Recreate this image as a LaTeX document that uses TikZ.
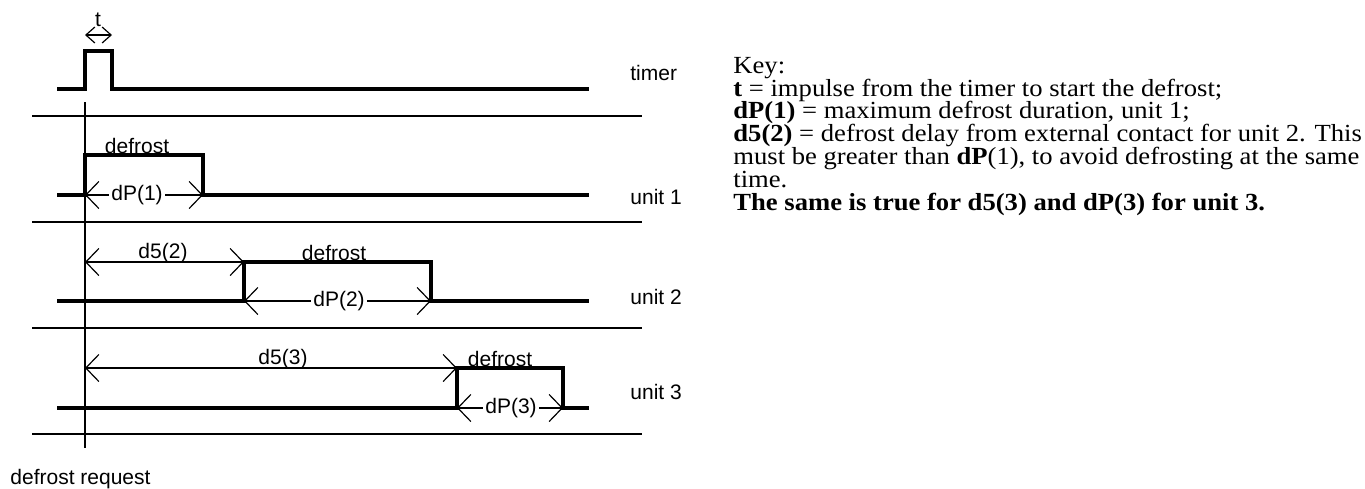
\documentclass[tikz,border=0pt]{standalone}
\usepackage{fontspec}
\setmainfont{Liberation Sans}
\newfontfamily\keyfont{Liberation Serif}
\usetikzlibrary{arrows.meta}
\newcommand{\keytext}[1]{\scalebox{1.082}[1]{#1}}
\begin{document}
\begin{tikzpicture}[x=0.5pt,y=-0.5pt,
  sig/.style={line width=2pt, line join=miter},
  sepline/.style={line width=0.9pt},
  reqline/.style={line width=0.9pt},
  dim/.style={line width=0.6pt, {Straight Barb[length=6.5pt,width=13.5pt]}-{Straight Barb[length=6.5pt,width=13.5pt]}},
  tdim/.style={line width=0.6pt, {Straight Barb[length=4.5pt,width=8pt]}-{Straight Barb[length=4.5pt,width=8pt]}},
  lbl/.style={font=\fontsize{10.5}{12}\selectfont, inner sep=0pt},
  dlbl/.style={lbl, fill=white, inner xsep=1pt, inner ysep=0pt},
  rlbl/.style={lbl, anchor=base west},
  key/.style={font=\keyfont\fontsize{12.3}{13}\selectfont, anchor=base west, inner sep=0pt}]
\useasboundingbox (0,0) rectangle (1365,488);

% event coordinates
\coordinate (tr) at (85,35);   \coordinate (tf) at (112,35);
\coordinate (a1) at (85,195);  \coordinate (b1) at (203,195);
\coordinate (a2) at (85,262);  \coordinate (b2) at (244,262);
\coordinate (c2) at (244,301); \coordinate (d2) at (431,301);
\coordinate (a3) at (85,368);  \coordinate (b3) at (457,368);
\coordinate (c3) at (457,408); \coordinate (d3) at (563,408);
\coordinate (rq1) at (85,102); \coordinate (rq2) at (85,448);

% separators
\foreach \yy in {116,222,328,434} \draw[sepline] (32,\yy) -- (642,\yy);

% defrost request line
\draw[reqline] (rq1) -- (rq2);

% signals
\draw[sig] (57,89) -- (85,89) -- (85,51) -- (112,51) -- (112,89) -- (589,89);
\draw[sig] (57,195) -- (85,195) -- (85,155) -- (203,155) -- (203,195) -- (589,195);
\draw[sig] (57,301) -- (244,301) -- (244,262) -- (431,262) -- (431,301) -- (589,301);
\draw[sig] (57,408) -- (457,408) -- (457,368) -- (563,368) -- (563,408) -- (589,408);

% dimension arrows
\draw[tdim] (tr) -- (tf);
\draw[dim] (a1) -- (b1);
\draw[dim] (a2) -- (b2);
\draw[dim] (c2) -- (d2);
\draw[dim] (a3) -- (b3);
\draw[dim] (c3) -- (d3);

% labels
\node[lbl] (tl) at (98,20) {t};
\node[lbl] (df1) at (137,146) {defrost};
\node[dlbl] (dp1) at (137,195) {dP(1)};
\node[lbl] (d52) at (163,253) {d5(2)};
\node[lbl] (df2) at (334,253) {defrost};
\node[dlbl] (dp2) at (339,301) {dP(2)};
\node[lbl] (d53) at (283,359) {d5(3)};
\node[lbl] (df3) at (500,359) {defrost};
\node[dlbl] (dp3) at (511,408) {dP(3)};

\node[rlbl] (ltimer) at (630,80) {timer};
\node[rlbl] (lu1) at (630,204) {unit 1};
\node[rlbl] (lu2) at (630,304) {unit 2};
\node[rlbl] (lu3) at (630,399) {unit 3};
\node[rlbl] (lreq) at (10,484) {defrost request};

% key
\node[key] (k1) at (733,73) {\keytext{Key:}};
\node[key] (k2) at (733,96) {\keytext{\textbf{t} = impulse from the timer to start the defrost;}};
\node[key] (k3) at (733,118) {\keytext{\textbf{dP(1)} = maximum defrost duration, unit 1;}};
\node[key] (k4) at (733,141) {\keytext{\textbf{d5(2)} = defrost delay from external contact for unit 2. This}};
\node[key] (k5) at (733,164) {\keytext{must be greater than \textbf{dP}(1), to avoid defrosting at the same}};
\node[key] (k6) at (733,187) {\keytext{time.}};
\node[key] (k7) at (733,210) {\keytext{\textbf{The same is true for d5(3) and dP(3) for unit 3.}}};
\end{tikzpicture}
\end{document}
